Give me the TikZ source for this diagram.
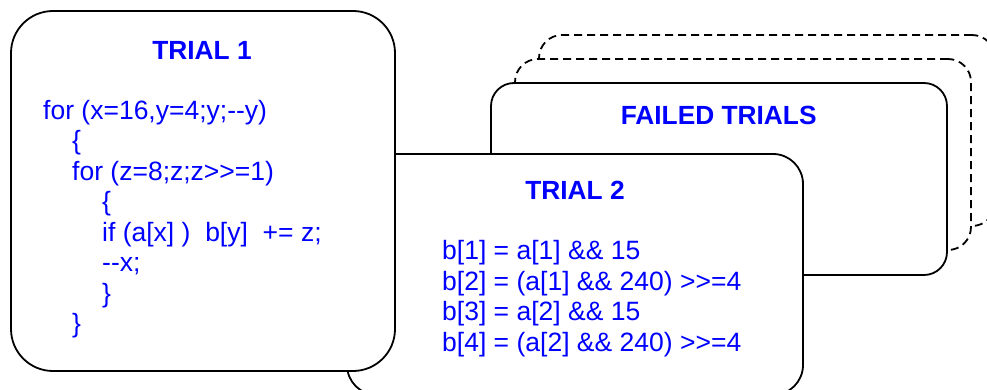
\documentclass[tikz,border=0pt]{standalone}
\usepackage{fontspec}
\setmainfont{Liberation Sans}[Ligatures=TeXOff]
\definecolor{txtblue}{RGB}{0,0,255}
\begin{document}
\begin{tikzpicture}[x=1pt,y=-1pt,
  box/.style={draw=black, line width=1.8pt, fill=white, rectangle, inner sep=0pt, outer sep=0pt, anchor=north west},
  dbox/.style={box, dash pattern=on 8pt off 5pt},
  title/.style={text=txtblue, font=\fontsize{26.3}{30}\selectfont\bfseries, anchor=base, inner sep=0pt},
  code/.style={text=txtblue, font=\fontsize{26.5}{30}\selectfont, anchor=base west, inner sep=0pt}]
\useasboundingbox (0,0) rectangle (987,390);
% back to front
\node[dbox, minimum width=456pt, minimum height=191pt, rounded corners=23pt] (d2) at (539,35) {};
\node[dbox, minimum width=456pt, minimum height=191pt, rounded corners=23pt] (d1) at (515,59) {};
\node[box, minimum width=456pt, minimum height=192pt, rounded corners=23pt] (fail) at (491,83) {};
\node[title] (failt) at (718.7,125) {FAILED TRIALS};
\node[box, minimum width=456pt, minimum height=241pt, rounded corners=30pt] (t2) at (347,154) {};
\node[title] (t2t) at (575,199.3) {TRIAL 2};
\node[code] (t2a) at (442,259.3) {b[1] = a[1] \&\& 15};
\node[code] (t2b) at (442,290.1) {b[2] = (a[1] \&\& 240) >>=4};
\node[code] (t2c) at (442,320.9) {b[3] = a[2] \&\& 15};
\node[code] (t2d) at (442,351.7) {b[4] = (a[2] \&\& 240) >>=4};
\node[box, minimum width=384pt, minimum height=360pt, rounded corners=42pt] (t1) at (11,11) {};
\node[title] (t1t) at (202,59.3) {TRIAL 1};
\node[code] (t1a) at (43,119.3) {for (x=16,y=4;y;-\kern0pt-y)};
\node[code] (t1b) at (72,149.8) {\{};
\node[code] (t1c) at (72,180.3) {for (z=8;z;z>>=1)};
\node[code] (t1d) at (102,210.8) {\{};
\node[code] (t1e) at (102,241.3) {if (a[x] )~~b[y]~~+= z;};
\node[code] (t1f) at (102,271.8) {-\kern0pt-x;};
\node[code] (t1g) at (102,302.3) {\}};
\node[code] (t1h) at (72,332.8) {\}};
\end{tikzpicture}
\end{document}
